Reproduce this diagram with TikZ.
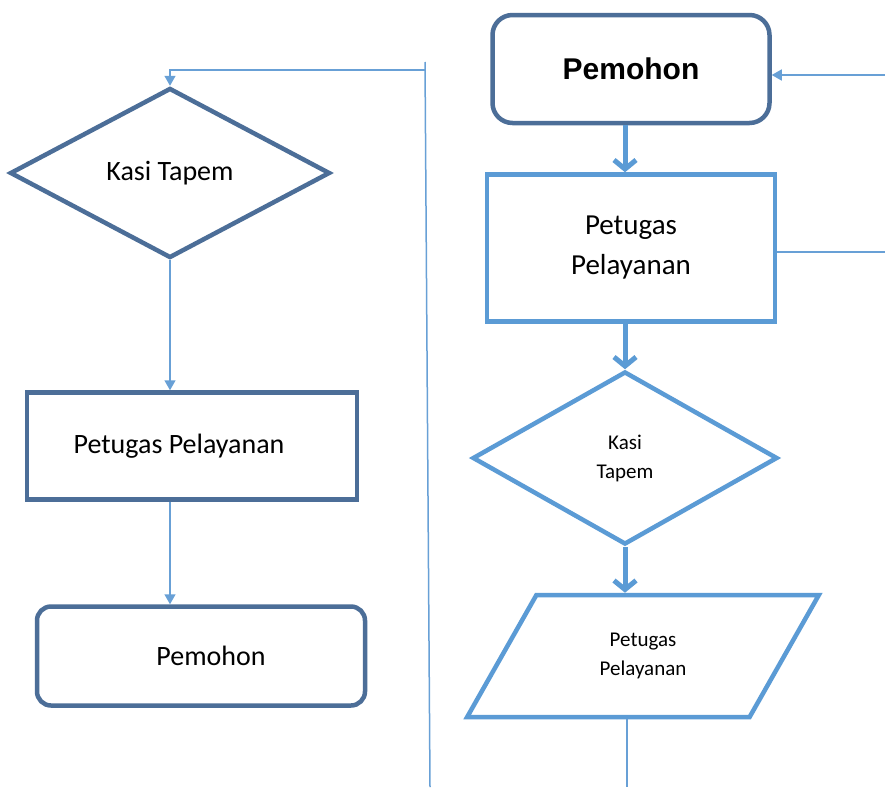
\documentclass[tikz,border=0pt]{standalone}
\usepackage{fontspec}
\setmainfont{Carlito}
\newfontfamily\arialfont{Liberation Sans}
\usetikzlibrary{arrows.meta, shapes.geometric, positioning, calc}

\definecolor{darkblue}{RGB}{76,110,152}
\definecolor{lightblue}{RGB}{91,155,213}
\definecolor{lineblue}{RGB}{104,160,214}

\tikzset{
  darkbox/.style={draw=darkblue, line width=4.5pt, fill=white, align=center},
  lightbox/.style={draw=lightblue, line width=4.5pt, fill=white, align=center},
  thinline/.style={draw=lineblue, line width=1.5pt},
  thinarrow/.style={thinline, -{Triangle[length=10pt, width=11pt]}},
  thickarrow/.style={draw=lightblue, line width=5pt, -{Straight Barb[length=9pt, width=22pt]}}
}

\begin{document}
\begin{tikzpicture}[x=1pt, y=-1pt]
\useasboundingbox[fill=white] (0,0) rectangle (885,787);

% left column
\node[darkbox, diamond, minimum width=320pt, minimum height=170pt, inner sep=0pt,
      font=\fontsize{28}{34}\selectfont] (kt1) at (170,173) {Kasi Tapem};
\node[darkbox, rectangle, minimum width=330pt, minimum height=107pt,
      font=\fontsize{28}{34}\selectfont] (pp1) at (192,446) {Petugas Pelayanan\hspace*{26pt}};
\node[darkbox, rectangle, rounded corners=14pt, minimum width=328pt, minimum height=99pt,
      font=\fontsize{28}{34}\selectfont] (pm1) at (201,656) {\hspace*{20pt}Pemohon};

\draw[thinarrow] (kt1.south) -- (kt1.south |- pp1.north);
\draw[thinarrow] (kt1.south |- pp1.south) -- (kt1.south |- pm1.north);

% feedback line
\coordinate (looptop) at (425,62);
\coordinate (loopbot) at (430,787);
\coordinate (corner) at (425,70);
\draw[thinline] (loopbot) -- (looptop);
\draw[thinarrow] (corner) -| (kt1.north);

% right column
\node[darkbox, rectangle, rounded corners=20pt, minimum width=277pt, minimum height=108pt,
      font=\arialfont\bfseries\fontsize{30}{36}\selectfont] (pm2) at (631,69) {Pemohon};
\node[lightbox, rectangle, minimum width=288pt, minimum height=147pt,
      font=\fontsize{29}{40}\selectfont] (pp2) at (631,248) {Petugas\\Pelayanan};
\node[lightbox, diamond, minimum width=305pt, minimum height=173pt, inner sep=0pt,
      font=\fontsize{21}{29}\selectfont] (kt2) at (625,458) {Kasi\\Tapem};
\node[lightbox, trapezium, trapezium left angle=60, trapezium right angle=120,
      trapezium stretches=true, minimum width=352pt, minimum height=122pt,
      font=\fontsize{21}{29}\selectfont] (ps2) at (643,656) {Petugas\\Pelayanan};

\draw[thickarrow] (kt2.south |- pm2.south) -- (kt2.south |- pp2.north);
\draw[thickarrow] (kt2.north |- pp2.south) -- (kt2.north);
\draw[thickarrow] (kt2.south) -- (kt2.south |- ps2.north);

\coordinate (rightbot) at (627,787);
\coordinate (rightmid) at (885,252);
\coordinate (righttop) at (885,75);
\draw[thinline] (rightbot |- ps2.south) -- (rightbot);
\draw[thinline] (pp2.east |- rightmid) -- (rightmid);
\draw[thinarrow] (righttop) -- (righttop -| pm2.east);
\end{tikzpicture}
\end{document}
